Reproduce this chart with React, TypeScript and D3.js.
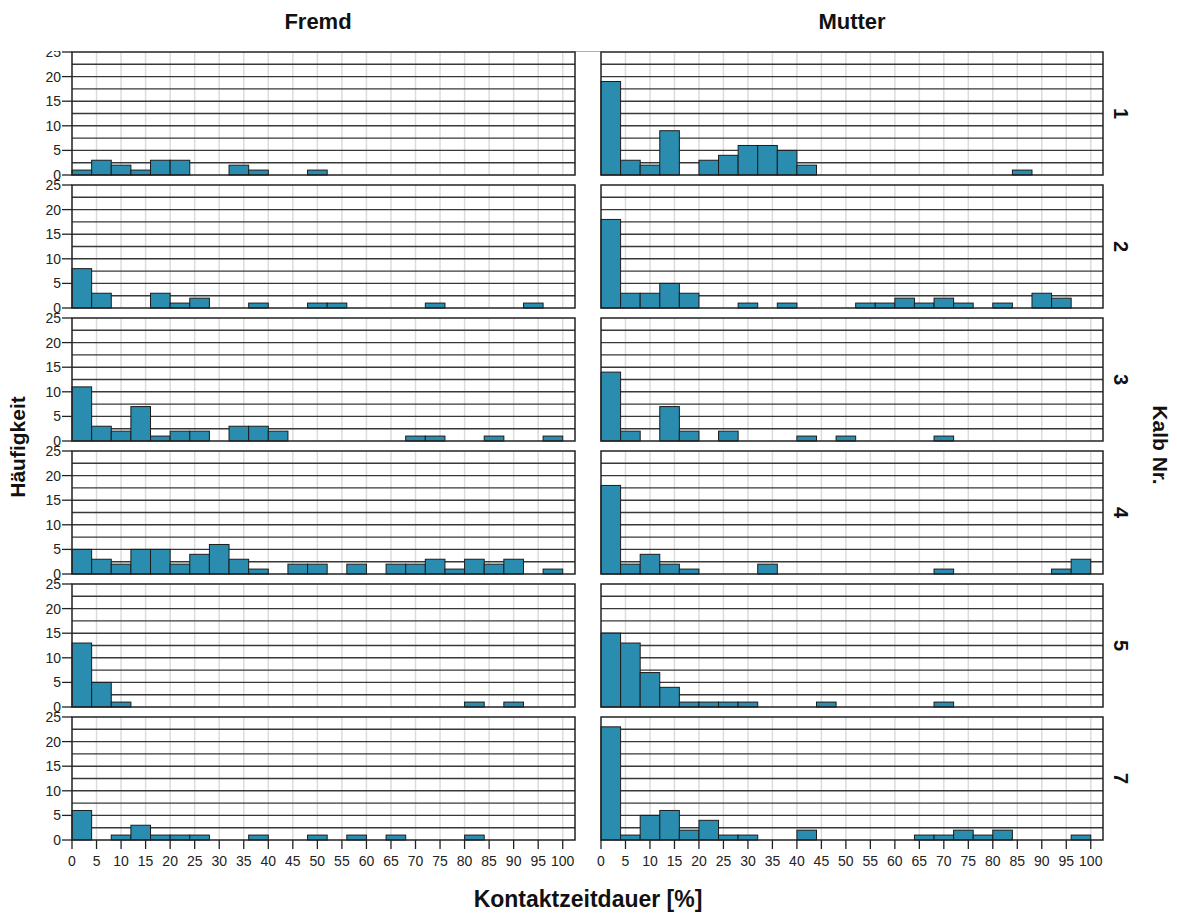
import React from "react";
import * as d3 from "d3";

// ---- data ----
const columnLabels = ["Fremd", "Mutter"];
const rowLabels = ["1", "2", "3", "4", "5", "7"];
const binStarts = [0, 4, 8, 12, 16, 20, 24, 28, 32, 36, 40, 44, 48, 52, 56, 60, 64, 68, 72, 76, 80, 84, 88, 92, 96];
const binWidth = 4;
const xTicks = [0, 5, 10, 15, 20, 25, 30, 35, 40, 45, 50, 55, 60, 65, 70, 75, 80, 85, 90, 95, 100];
const yTicks = [0, 5, 10, 15, 20, 25];

const fremd1 = [1, 3, 2, 1, 3, 3, 0, 0, 2, 1, 0, 0, 1, 0, 0, 0, 0, 0, 0, 0, 0, 0, 0, 0, 0];
const mutter1 = [19, 3, 2, 9, 0, 3, 4, 6, 6, 5, 2, 0, 0, 0, 0, 0, 0, 0, 0, 0, 0, 1, 0, 0, 0];
const fremd2 = [8, 3, 0, 0, 3, 1, 2, 0, 0, 1, 0, 0, 1, 1, 0, 0, 0, 0, 1, 0, 0, 0, 0, 1, 0];
const mutter2 = [18, 3, 3, 5, 3, 0, 0, 1, 0, 1, 0, 0, 0, 1, 1, 2, 1, 2, 1, 0, 1, 0, 3, 2, 0];
const fremd3 = [11, 3, 2, 7, 1, 2, 2, 0, 3, 3, 2, 0, 0, 0, 0, 0, 0, 1, 1, 0, 0, 1, 0, 0, 1];
const mutter3 = [14, 2, 0, 7, 2, 0, 2, 0, 0, 0, 1, 0, 1, 0, 0, 0, 0, 1, 0, 0, 0, 0, 0, 0, 0];
const fremd4 = [5, 3, 2, 5, 5, 2, 4, 6, 3, 1, 0, 2, 2, 0, 2, 0, 2, 2, 3, 1, 3, 2, 3, 0, 1];
const mutter4 = [18, 2, 4, 2, 1, 0, 0, 0, 2, 0, 0, 0, 0, 0, 0, 0, 0, 1, 0, 0, 0, 0, 0, 1, 3];
const fremd5 = [13, 5, 1, 0, 0, 0, 0, 0, 0, 0, 0, 0, 0, 0, 0, 0, 0, 0, 0, 0, 1, 0, 1, 0, 0];
const mutter5 = [15, 13, 7, 4, 1, 1, 1, 1, 0, 0, 0, 1, 0, 0, 0, 0, 0, 1, 0, 0, 0, 0, 0, 0, 0];
const fremd7 = [6, 0, 1, 3, 1, 1, 1, 0, 0, 1, 0, 0, 1, 0, 1, 0, 1, 0, 0, 0, 1, 0, 0, 0, 0];
const mutter7 = [23, 1, 5, 6, 2, 4, 1, 1, 0, 0, 2, 0, 0, 0, 0, 0, 1, 1, 2, 1, 2, 0, 0, 0, 1];

const panelCounts = [
  [fremd1, mutter1],
  [fremd2, mutter2],
  [fremd3, mutter3],
  [fremd4, mutter4],
  [fremd5, mutter5],
  [fremd7, mutter7],
];

// ---- layout ----
const W = 1177;
const H = 913;
const colRanges = [
  [72, 575],
  [601, 1103],
];
const firstTop = 52;
const rowPitch = 133;
const panelH = 123;
const FONT = "'Liberation Sans', Arial, sans-serif";
const BAR_FILL = "#2a8cae";

export default function App() {
  const xScales = colRanges.map((r) => d3.scaleLinear().domain([0, 102.5]).range(r));
  const gridY = d3.range(1, 10).map((i) => i * 2.5);
  const bottomY = firstTop + rowPitch * (rowLabels.length - 1) + panelH;

  return (
    <svg
      width={W}
      height={H}
      style={{ position: "absolute", left: 0, top: 0, background: "#fff" }}
      fontFamily={FONT}
    >
      <defs>
        {rowLabels.map((_, ri) => {
          const top = firstTop + ri * rowPitch;
          const y0 = ri === 0 ? top - 1 : top - 5;
          return (
            <clipPath id={`ylab${ri}`} key={ri}>
              <rect x={0} y={y0} width={75} height={top + rowPitch - 5 - y0} />
            </clipPath>
          );
        })}
      </defs>

      {/* column headers */}
      {columnLabels.map((c, ci) => (
        <text
          key={c}
          x={ci === 0 ? 318 : 852}
          y={29}
          textAnchor="middle"
          fontSize={22}
          fontWeight="bold"
          fill="#111"
        >
          {c}
        </text>
      ))}
      <line x1={575} x2={601} y1={51.5} y2={51.5} stroke="#b0b0b0" strokeWidth={1} />

      {rowLabels.map((rl, ri) => {
        const top = firstTop + ri * rowPitch;
        const y = d3.scaleLinear().domain([0, 25]).range([top + panelH, top]);
        return (
          <g key={rl}>
            {colRanges.map((_, ci) => {
              const x = xScales[ci];
              const counts = panelCounts[ri][ci];
              const [x0, x1] = x.range();
              return (
                <g key={ci}>
                  <rect x={x0} y={top} width={x1 - x0} height={panelH} fill="#fff" />
                  {xTicks.slice(1).map((t) => (
                    <line
                      key={"v" + t}
                      x1={x(t)}
                      x2={x(t)}
                      y1={top}
                      y2={top + panelH}
                      stroke="#dcdcdc"
                      strokeWidth={1.5}
                    />
                  ))}
                  {gridY.map((g) => (
                    <line
                      key={"h" + g}
                      x1={x0}
                      x2={x1}
                      y1={y(g)}
                      y2={y(g)}
                      stroke="#383838"
                      strokeWidth={1.4}
                    />
                  ))}
                  {counts.map((c, bi) =>
                    c > 0 ? (
                      <rect
                        key={"b" + bi}
                        x={x(binStarts[bi])}
                        y={y(c)}
                        width={x(binStarts[bi] + binWidth) - x(binStarts[bi])}
                        height={y(0) - y(c)}
                        fill={BAR_FILL}
                        stroke="#1c1c1c"
                        strokeWidth={1}
                      />
                    ) : null
                  )}
                  <rect
                    x={x0}
                    y={top}
                    width={x1 - x0}
                    height={panelH}
                    fill="none"
                    stroke="#222"
                    strokeWidth={1.5}
                  />
                </g>
              );
            })}
            {/* y axis ticks (left column only) */}
            {yTicks.map((t) => (
              <line key={"yt" + t} x1={62} x2={72} y1={y(t)} y2={y(t)} stroke="#222" strokeWidth={1.3} />
            ))}
            <g clipPath={`url(#ylab${ri})`}>
              {yTicks.map((t) => (
                <text
                  key={"yl" + t}
                  x={61}
                  y={y(t)}
                  dy="0.36em"
                  textAnchor="end"
                  fontSize={14}
                  fill="#222"
                >
                  {t}
                </text>
              ))}
            </g>
            {/* row label */}
            <text
              transform={`translate(1114, ${top + panelH / 2}) rotate(90)`}
              textAnchor="middle"
              fontSize={20}
              fontWeight="bold"
              fill="#111"
            >
              {rl}
            </text>
          </g>
        );
      })}

      {/* bottom axes */}
      {colRanges.map((_, ci) => {
        const x = xScales[ci];
        return (
          <g key={"ax" + ci}>
            {xTicks.map((t) => (
              <g key={t}>
                <line x1={x(t)} x2={x(t)} y1={bottomY} y2={bottomY + 9} stroke="#222" strokeWidth={1.3} />
                <text x={x(t)} y={bottomY + 26} textAnchor="middle" fontSize={14} fill="#222">
                  {t}
                </text>
              </g>
            ))}
          </g>
        );
      })}

      <text x={588} y={907} textAnchor="middle" fontSize={23} fontWeight="bold" fill="#111">
        Kontaktzeitdauer [%]
      </text>
      <text
        transform={`translate(25, 447) rotate(-90)`}
        textAnchor="middle"
        fontSize={21}
        fontWeight="bold"
        fill="#111"
      >
        Häufigkeit
      </text>
      <text
        transform={`translate(1153, 445) rotate(90)`}
        textAnchor="middle"
        fontSize={21}
        fontWeight="bold"
        fill="#111"
      >
        Kalb Nr.
      </text>
    </svg>
  );
}
